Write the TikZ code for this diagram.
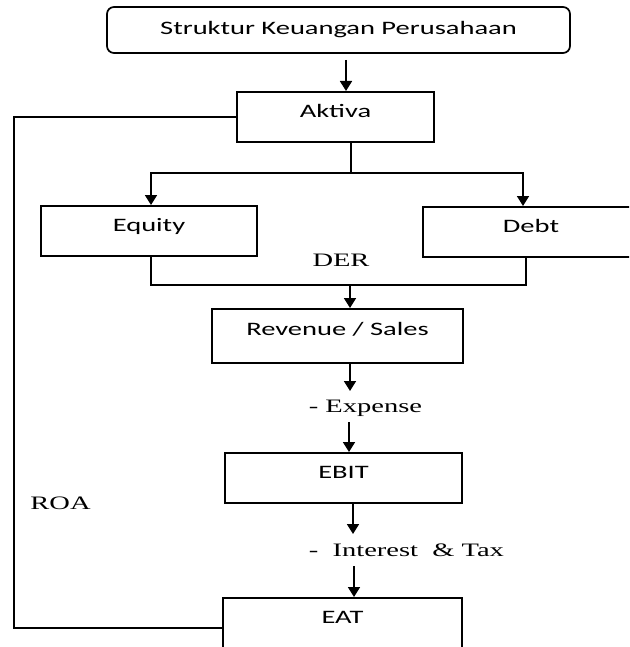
\documentclass[tikz,border=0pt]{standalone}
\usepackage{fontspec}
\setmainfont{Carlito}[FakeStretch=1.5]
\newfontfamily\labelfont{Liberation Serif}[FakeStretch=1.5]
\usepackage{tikz}
\usetikzlibrary{positioning, arrows.meta}
\tikzset{
x=1pt, y=-1pt, % one unit is one pixel of the sketch, y runs down
>={Triangle[length=10pt, width=12pt]}, % bold filled arrow heads
every node/.style={font=\fontsize{19}{23}\selectfont},
titlebox/.style={draw, rounded corners=7pt, inner sep=0pt, minimum height=46pt}, % the rounded box on top
box/.style={draw, anchor=north, inner ysep=0pt, text height=26pt, text depth=24pt}, % plain boxes, text near the top
tag/.style={anchor=base, inner sep=0pt, font=\fontsize{19}{23}\selectfont\labelfont}, % free serif labels
}

\begin{document}
\begin{tikzpicture}[line width=1.7pt]
        \clip (0,0) rectangle (629,647);

        \node[titlebox, minimum width=463pt] (top) at (338.5,30) {Struktur Keuangan Perusahaan};
        \node[box, minimum width=197pt] (aktiva) at (335.5,91) {Aktiva};
        \node[box, minimum width=216pt] (equity) at (149,205) {Equity};
        \node[box, minimum width=216pt] (debt) at (531,206) {Debt};
        \node[box, minimum width=251pt, text height=27pt, text depth=27pt] (revenue) at (337.5,308) {Revenue / Sales};
        \node[box, minimum width=237pt] (ebit) at (343.5,452) {EBIT};
        \node[box, minimum width=239pt, text depth=40pt] (eat) at (342.5,597) {EAT};

        \node[tag] (der) at (341,266) {DER};
        \node[tag, anchor=base west] (expense) at (308,412) {- Expense};
        \node[tag, anchor=base west] (interest) at (308,556) {-\ \ Interest\ \ \& Tax};
        \node[tag] (roa) at (60.5,509) {ROA};

        \coordinate (t1) at (346,60);
        \coordinate (split) at (351,173);
        \coordinate (merge) at (350,285);
        \coordinate (e1) at (350,391);
        \coordinate (e2) at (349,422);
        \coordinate (i1) at (353,534);
        \coordinate (i2) at (354,566);
        \coordinate (loop) at (14,628);

        % top part
        \draw[->] (t1) -- (t1 |- aktiva.north);
        \draw (aktiva.south -| split) -- (split);
        \draw[->] (split) -| ([xshift=2pt]equity.north);
        \draw[->] (split) -| ([xshift=-8pt]debt.north);

        % DER
        \draw ([xshift=2pt]equity.south) |- (merge) -| ([xshift=-5pt]debt.south);
        \draw[->] (merge) -- (merge |- revenue.north);

        % down to EAT
        \draw[->] (revenue.south -| e1) -- (e1);
        \draw[->] (e2) -- (e2 |- ebit.north);
        \draw[->] (ebit.south -| i1) -- (i1);
        \draw[->] (i2) -- (i2 |- eat.north);

        % ROA
        \draw (aktiva.west) -| (loop) -- (loop -| eat.west);
    \end{tikzpicture}
\end{document}
